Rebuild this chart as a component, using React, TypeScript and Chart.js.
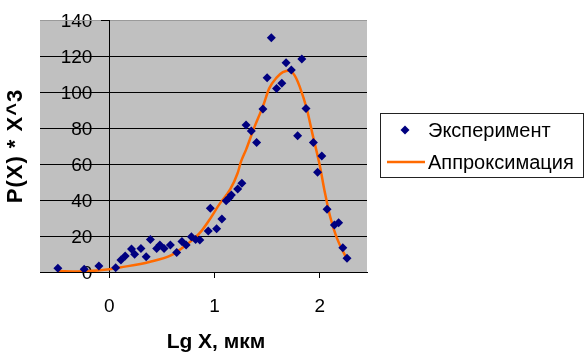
import React, { useEffect, useRef } from "react";
import { Chart, registerables } from "chart.js";

Chart.register(...registerables);

const expX = [-0.49, -0.24, -0.10, 0.06, 0.11, 0.15, 0.21, 0.24, 0.30, 0.35, 0.39, 0.45, 0.48, 0.52, 0.58, 0.64, 0.69, 0.73, 0.78, 0.82, 0.86, 0.94, 0.96, 1.02, 1.07, 1.11, 1.14, 1.16, 1.22, 1.26, 1.30, 1.35, 1.40, 1.46, 1.50, 1.54, 1.59, 1.64, 1.68, 1.73, 1.79, 1.83, 1.87, 1.94, 1.98, 2.02, 2.07, 2.14, 2.18, 2.22, 2.26];
const expY = [2.1, 1.5, 3.3, 2.4, 6.7, 8.9, 12.8, 9.8, 13.1, 8.5, 18.1, 13.1, 15, 13.1, 15, 10.9, 16.9, 15, 19.6, 18.1, 17.8, 22.8, 35.4, 24, 29.4, 39.6, 41.3, 42.8, 46.1, 49.3, 81.7, 78.3, 72, 90.6, 107.9, 130.2, 102, 104.8, 116.3, 112.2, 75.7, 118.3, 90.9, 72, 55.4, 64.4, 34.8, 26.1, 27.4, 13.5, 7.6];

const apprX = [-0.49, -0.3, 0.0, 0.1, 0.38, 0.59, 0.73, 0.86, 0.95, 1.05, 1.15, 1.22, 1.25, 1.3, 1.38, 1.46, 1.52, 1.59, 1.65, 1.71, 1.76, 1.81, 1.88, 1.93, 2.0, 2.05, 2.1, 2.16, 2.24, 2.27];
const apprY = [0.5, 0.3, 1.5, 2.5, 5.6, 9.4, 15, 21.7, 28.9, 38, 46, 55, 61, 68, 80.6, 92, 102, 108, 111, 112, 109.4, 103, 90, 77, 59.4, 44, 30.6, 19.4, 9.4, 6];

const yTicks = [0, 20, 40, 60, 80, 100, 120, 140];
const seriesNames = ["Эксперимент", "Аппроксимация"];
const xTitle = "Lg X, мкм";
const yTitle = "P(X) * X^3";

const FONT = "'Liberation Sans', Arial, sans-serif";
const NAVY = "#000080";
const ORANGE = "#FF6A00";

const decor = {
  id: "decor",
  beforeDraw(chart: any) {
    const { ctx, chartArea: a, scales } = chart;
    ctx.save();
    ctx.fillStyle = "#ffffff";
    ctx.fillRect(0, 0, chart.width, chart.height);
    ctx.fillStyle = "#c0c0c0";
    ctx.fillRect(a.left, a.top, a.right - a.left, a.bottom - a.top);
    // y tick labels (drawn under the grid lines, next to the y axis at x = 0)
    const xAxisPx = scales.x.getPixelForValue(0);
    ctx.fillStyle = "#000";
    ctx.font = `19px ${FONT}`;
    ctx.textAlign = "right";
    ctx.textBaseline = "middle";
    for (const v of yTicks) {
      ctx.fillText(String(v), xAxisPx - 17, scales.y.getPixelForValue(v) + 2);
    }
    ctx.restore();
  },
  afterDraw(chart: any) {
    const { ctx } = chart;
    ctx.save();
    ctx.fillStyle = "#000";
    ctx.font = `bold 21px ${FONT}`;
    ctx.textAlign = "center";
    ctx.textBaseline = "middle";
    ctx.fillText(xTitle, 216, 342);
    ctx.translate(16, 146);
    ctx.rotate(-Math.PI / 2);
    ctx.font = `bold 22px ${FONT}`;
    try { (ctx as any).letterSpacing = "1px"; } catch (e) {}
    ctx.fillText(yTitle, 0, 0);
    ctx.restore();

    // legend
    ctx.save();
    ctx.strokeStyle = "#222";
    ctx.lineWidth = 1;
    ctx.strokeRect(380.5, 113.5, 203, 64);
    ctx.fillStyle = NAVY;
    ctx.beginPath();
    const cx = 405, cy = 130, r = 4.5;
    ctx.moveTo(cx, cy - r);
    ctx.lineTo(cx + r, cy);
    ctx.lineTo(cx, cy + r);
    ctx.lineTo(cx - r, cy);
    ctx.closePath();
    ctx.fill();
    ctx.strokeStyle = ORANGE;
    ctx.lineWidth = 2.5;
    ctx.beginPath();
    ctx.moveTo(387, 162);
    ctx.lineTo(425, 162);
    ctx.stroke();
    ctx.fillStyle = "#000";
    ctx.font = `20px ${FONT}`;
    ctx.textAlign = "left";
    ctx.textBaseline = "middle";
    ctx.fillText(seriesNames[0], 428, 131);
    ctx.fillText(seriesNames[1], 428, 163);
    ctx.restore();
  },
};

export default function App() {
  const ref = useRef<HTMLCanvasElement | null>(null);
  useEffect(() => {
    if (!ref.current) return;
    const chart = new Chart(ref.current, {
      type: "scatter",
      data: {
        datasets: [
          {
            label: seriesNames[0],
            data: expX.map((x, i) => ({ x, y: expY[i] })),
            pointStyle: "rectRot",
            pointRadius: 4.5,
            backgroundColor: NAVY,
            borderColor: NAVY,
            borderWidth: 0,
            showLine: false,
          },
          {
            label: seriesNames[1],
            data: apprX.map((x, i) => ({ x, y: apprY[i] })),
            showLine: true,
            pointRadius: 0,
            borderColor: ORANGE,
            backgroundColor: ORANGE,
            borderWidth: 2.5,
            cubicInterpolationMode: "monotone",
          } as any,
        ],
      },
      options: {
        responsive: false,
        animation: false,
        layout: { padding: { left: 40, right: 219, top: 20, bottom: 0 } },
        plugins: { legend: { display: false }, tooltip: { enabled: false } },
        scales: {
          x: {
            type: "linear",
            position: "bottom",
            min: -0.66,
            max: 2.45,
            afterFit: (s: any) => { s.height = 82; },
            ticks: {
              stepSize: 1,
              includeBounds: false,
              color: "#000",
              font: { family: FONT, size: 19 },
              padding: 17,
              callback: (v: any) => String(v),
            },
            grid: { drawOnChartArea: false, drawTicks: true, tickLength: 6, color: "#000", tickColor: "#000" },
            border: { display: true, color: "#000", width: 1 },
          },
          y: {
            type: "linear",
            position: { x: 0 } as any,
            min: 0,
            max: 140,
            ticks: {
              stepSize: 20,
              display: false,
            },
            grid: {
              drawOnChartArea: true,
              drawTicks: true,
              tickLength: 8,
              color: (c: any) => (c.tick && c.tick.value === 140 ? "#9a9a9a" : "#000"),
              tickColor: "#000",
              lineWidth: 1,
            },
            border: { display: true, color: "#000", width: 1 },
          },
        },
      },
      plugins: [decor],
    });
    return () => chart.destroy();
  }, []);
  return (
    <div style={{ position: "fixed", left: 0, top: 0, width: 586, height: 354, background: "#fff" }}>
      <canvas ref={ref} width={586} height={354} style={{ display: "block" }} />
    </div>
  );
}
